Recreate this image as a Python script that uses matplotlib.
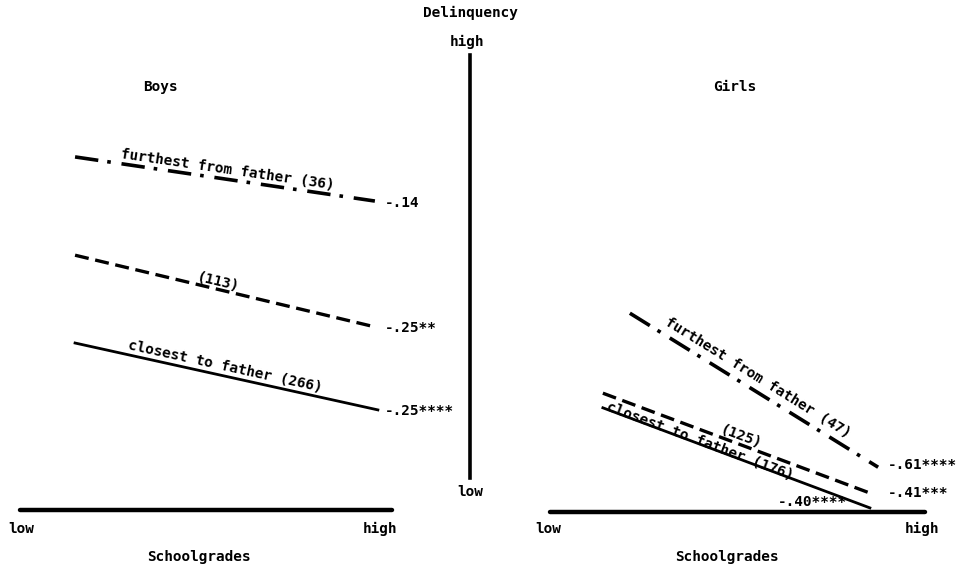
import numpy as np
import matplotlib
matplotlib.use("Agg")
import matplotlib.pyplot as plt
from matplotlib.lines import Line2D

# ---------------- data ----------------
groups = ["furthest from father", "middle", "closest to father"]
boys_n = [36, 113, 266]
girls_n = [47, 125, 176]
boys_r = ["-.14", "-.25**", "-.25****"]
girls_r = ["-.61****", "-.41***", "-.40****"]

# schoolgrade (0 = low, 10 = high) start/end of each line
boys_x = [[1.48, 9.54], [1.48, 9.46], [1.48, 9.62]]
boys_y = [[7.76, 6.79], [5.60, 4.04], [3.67, 2.20]]
girls_x = [[2.13, 8.75], [1.41, 8.61], [1.41, 8.53]]
girls_y = [[4.35, 0.98], [2.60, 0.39], [2.28, 0.09]]

W, H = 964, 566
fig = plt.figure(figsize=(W / 100, H / 100), dpi=100)
fig.patch.set_facecolor("white")

MONO = ["DejaVu Sans Mono"]
FS = 10.4

def fx(px):
    return px / W

def fy(py):
    return 1 - py / H

ax_b = fig.add_axes([fx(20), fy(510), fx(392) - fx(20), fy(55) - fy(510)])
ax_g = fig.add_axes([fx(550), fy(512), fx(925) - fx(550), fy(55) - fy(512)])
for ax in (ax_b, ax_g):
    ax.set_xlim(0, 10)
    ax.set_ylim(0, 10)
    ax.axis("off")
    ax.plot([0, 10], [0, 0], color="black", lw=3.2, solid_capstyle="round", clip_on=False)

styles = [
    dict(ls=(0, (6.5, 2.5, 1.0, 3.0)), lw=2.6),
    dict(ls=(0, (4.2, 2.0)), lw=2.4),
    dict(ls="-", lw=2.0),
]

def draw_panel(ax, xs, ys, rs, label_pos, r_pos, label_texts):
    fig.canvas.draw()
    for i in range(3):
        ax.plot(xs[i], ys[i], color="black", clip_on=False, **styles[i])
        p0 = ax.transData.transform((xs[i][0], ys[i][0]))
        p1 = ax.transData.transform((xs[i][1], ys[i][1]))
        ang = np.degrees(np.arctan2(p1[1] - p0[1], p1[0] - p0[0]))
        lx, ly = label_pos[i]
        ax.text(lx, ly, label_texts[i], rotation=ang, rotation_mode="anchor",
                ha="center", va="center", family=MONO, fontsize=FS,
                fontweight="bold", color="black")
        rx, ry = r_pos[i]
        ax.text(rx, ry, rs[i], ha="left", va="center", family=MONO,
                fontsize=FS, fontweight="bold", color="black")

boys_labels = [f"furthest from father ({boys_n[0]})", f"({boys_n[1]})",
               f"closest to father ({boys_n[2]})"]
girls_labels = [f"furthest from father ({girls_n[0]})", f"({girls_n[1]})",
                f"closest to father ({girls_n[2]})"]

draw_panel(ax_b, boys_x, boys_y, boys_r,
           [(5.59, 7.47), (5.32, 5.01), (5.51, 3.16)],
           [(9.81, 6.75), (9.81, 4.00), (9.81, 2.18)], boys_labels)
draw_panel(ax_g, girls_x, girls_y, girls_r,
           [(5.55, 2.93), (5.09, 1.64), (4.0, 1.55)],
           [(9.01, 1.03), (9.01, 0.42), (6.08, 0.22)], girls_labels)

# central delinquency axis
fig.add_artist(Line2D([fx(470), fx(470)], [fy(478), fy(55)], color="black",
                      lw=2.6, transform=fig.transFigure))

tk = dict(family=MONO, fontsize=FS, fontweight="bold", color="black",
          ha="center", va="center")
fig.text(fx(470), fy(13), "Delinquency", **tk)
fig.text(fx(467), fy(42), "high", **tk)
fig.text(fx(470), fy(492), "low", **tk)
fig.text(fx(160), fy(87), "Boys", **tk)
fig.text(fx(735), fy(87), "Girls", **tk)

fig.text(fx(21), fy(529), "low", **tk)
fig.text(fx(380), fy(529), "high", **tk)
fig.text(fx(199), fy(557), "Schoolgrades", **tk)
fig.text(fx(548), fy(529), "low", **tk)
fig.text(fx(922), fy(529), "high", **tk)
fig.text(fx(727), fy(557), "Schoolgrades", **tk)

fig.savefig("out.png", dpi=100, facecolor="white")
